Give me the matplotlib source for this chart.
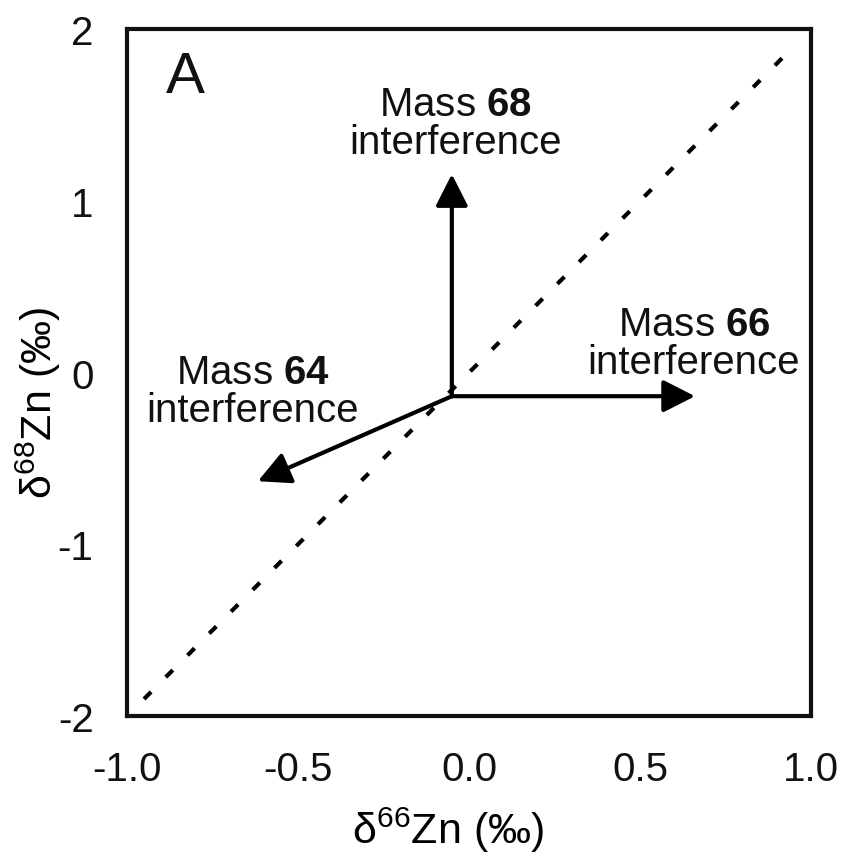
import numpy as np
import matplotlib.pyplot as plt

plt.rcParams['font.family'] = ['Liberation Sans', 'DejaVu Sans']
plt.rcParams['mathtext.fontset'] = 'custom'
plt.rcParams['mathtext.rm'] = 'Liberation Sans'
plt.rcParams['mathtext.bf'] = 'Liberation Sans:bold'

# reference line delta68 = 2 * delta66
line_x = [-0.95, 0.95]
line_y = [-1.9, 1.9]

# interference arrows (start -> tip)
arrow_origin = (-0.05, -0.137)
arrow_tips = [(-0.05, 1.156), (0.661, -0.137), (-0.617, -0.632)]
arrow_labels = ["Mass $\\mathbf{68}$\ninterference",
                "Mass $\\mathbf{66}$\ninterference",
                "Mass $\\mathbf{64}$\ninterference"]
label_pos = [(-0.038, 1.453), (0.658, 0.172), (-0.632, -0.108)]

xticks = [-1.0, -0.5, 0.0, 0.5, 1.0]
yticks = [-2, -1, 0, 1, 2]

fig = plt.figure(figsize=(8.46, 8.62), dpi=100)
ax = fig.add_axes([0.150, 0.168, 0.8086, 0.797])

ax.plot(line_x, line_y, color='black', lw=3, linestyle=(0, (2.4, 5)),
        dash_capstyle='butt')

for tip in arrow_tips:
    ax.annotate('', xy=tip, xytext=arrow_origin,
                arrowprops=dict(arrowstyle='-|>,head_length=0.65,head_width=0.33',
                                mutation_scale=30, lw=3, color='black',
                                shrinkA=0, shrinkB=0))

for (lx, ly), txt in zip(label_pos, arrow_labels):
    ax.text(lx, ly, txt, ha='center', va='center', fontsize=29,
            linespacing=1.0, color='#111111')

ax.text(-0.83, 1.72, 'A', fontsize=42, ha='center', va='center', color='#111111')

ax.set_xlim(-1.0, 1.0)
ax.set_ylim(-2, 2)
ax.set_xticks(xticks)
ax.set_xticklabels(['%.1f' % v for v in xticks])
ax.set_yticks(yticks)
ax.set_yticklabels(['%d' % v for v in yticks])
ax.tick_params(length=0, labelsize=29, colors='#111111')
ax.tick_params(axis='x', pad=24)
ax.tick_params(axis='y', pad=24)

for s in ax.spines.values():
    s.set_linewidth(3)
    s.set_color('#111111')

ax.set_xlabel('$\\mathregular{\\delta^{66}}$Zn (‰)', fontsize=31)
ax.set_ylabel('$\\mathregular{\\delta^{68}}$Zn (‰)', fontsize=31)
ax.xaxis.set_label_coords(0.47, -0.128)
ax.yaxis.set_label_coords(-0.094, 0.458)

fig.savefig('out.png', dpi=100)
